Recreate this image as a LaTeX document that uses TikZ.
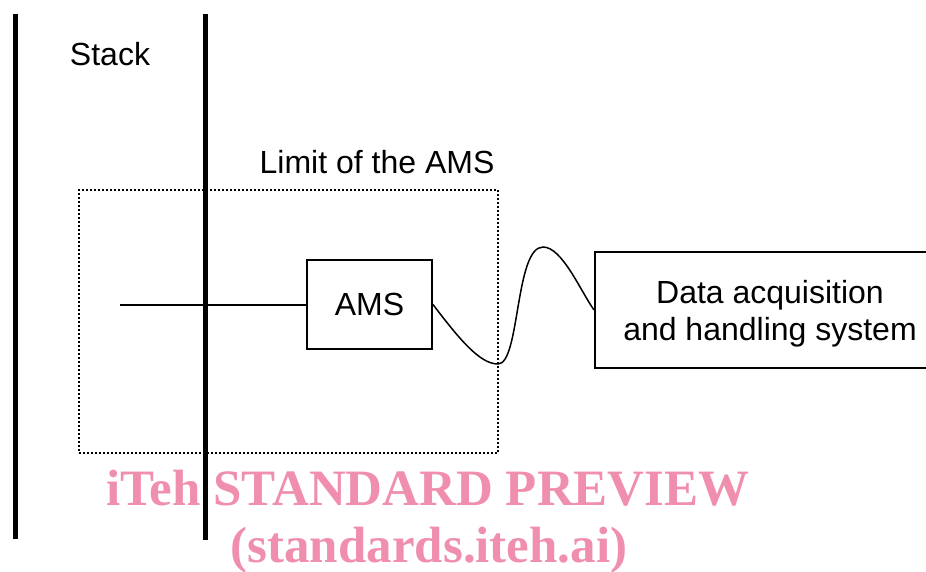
\documentclass[tikz,border=0pt]{standalone}
\usepackage{fontspec}
\setmainfont{Liberation Sans}
\newfontfamily\wmfont{Liberation Serif}
\definecolor{wmpink}{RGB}{239,143,173}

\begin{document}
\begin{tikzpicture}[x=1pt,y=-1pt,
		box/.style={draw,line width=2pt,inner sep=0pt},
		lbl/.style={font=\fontsize{32}{37}\selectfont},
		wall/.style={line width=5pt},
		wm/.style={text=wmpink,font=\wmfont\bfseries\fontsize{51}{51}\selectfont,anchor=base}]
		\useasboundingbox (0,0) rectangle (926,571);
		\clip (0,0) rectangle (926,571);
		% watermark
		\node[wm] (wmtop) at (428,505) {iTeh STANDARD PREVIEW};
		\node[wm] (wmbot) at (429,562) {(standards.iteh.ai)};
		% stack walls
		\draw[wall] (15,14) -- (15,539);
		\draw[wall] (205,14) -- (205,540);
		\node[lbl,anchor=base] (stack) at (110,65) {Stack};
		% limit of the system
		\node[draw,line width=2pt,dash pattern=on 2pt off 2pt,minimum width=419pt,minimum height=263pt] (limit) at (288.5,321.5) {};
		\node[lbl,anchor=base] (limitlbl) at (377,173) {Limit of the AMS};
		\node[box,lbl,minimum width=125pt,minimum height=89pt] (ams) at (369.5,304.5) {AMS};
		\node[box,minimum width=350pt,minimum height=116pt] (dahs) at (770,310) {};
		\node[lbl,align=center] (dahstxt) at (770,314) {Data acquisition\\and handling system};
		% probe and cable
		\coordinate (probe) at (120,304.5);
		\draw[line width=2pt] (probe) -- (ams.west);
		\draw[line width=1.5pt] (ams.east) .. controls (460,340) and (480,364) .. (498,364)
			.. controls (520,364) and (515,247) .. (543,247)
			.. controls (562,247) and (580,290) .. (dahs.west);
	\end{tikzpicture}
\end{document}
